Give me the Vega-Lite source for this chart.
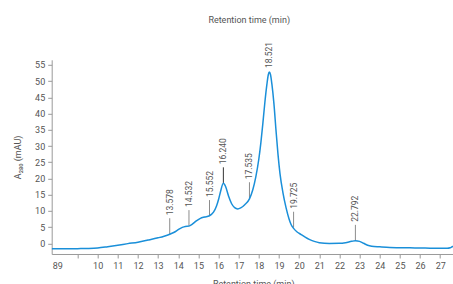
{
  "$schema": "https://vega.github.io/schema/vega-lite/v6.json",
  "autosize": {"type": "none"},
  "padding": {"left": 51.7, "top": 59.8, "right": 0, "bottom": 40},
  "width": 403,
  "height": 194.2,
  "config": {
    "font": "Roboto",
    "view": {"stroke": null},
    "axis": {"grid": false, "domainColor": "#9a9a9a", "tickColor": "#9a9a9a", "labelColor": "#555", "titleColor": "#555", "labelFontSize": 9, "titleFontSize": 9, "titleFontWeight": "normal", "tickSize": 4, "domainWidth": 1, "tickWidth": 1}
  },
  "title": {"text": "Retention time (min)", "fontSize": 9, "fontWeight": "normal", "color": "#555", "anchor": "middle", "offset": 17, "dx": -4},
  "datasets": {
    "trace": [
      {"t": 7.72, "v": -1.7}, {"t": 8.5, "v": -1.7}, {"t": 9.0, "v": -1.65}, {"t": 9.5, "v": -1.6},
      {"t": 10.0, "v": -1.45}, {"t": 10.5, "v": -1.05}, {"t": 11.0, "v": -0.6}, {"t": 11.5, "v": -0.1},
      {"t": 12.0, "v": 0.35}, {"t": 12.5, "v": 1.0}, {"t": 13.0, "v": 1.7}, {"t": 13.3, "v": 2.2},
      {"t": 13.58, "v": 2.8}, {"t": 13.8, "v": 3.4}, {"t": 14.0, "v": 4.2}, {"t": 14.2, "v": 4.9},
      {"t": 14.35, "v": 5.2}, {"t": 14.53, "v": 5.3}, {"t": 14.7, "v": 5.9}, {"t": 14.9, "v": 6.9},
      {"t": 15.1, "v": 7.7}, {"t": 15.3, "v": 8.1}, {"t": 15.55, "v": 8.5}, {"t": 15.75, "v": 9.6},
      {"t": 15.9, "v": 11.5}, {"t": 16.0, "v": 13.5}, {"t": 16.1, "v": 16.0}, {"t": 16.24, "v": 18.5},
      {"t": 16.35, "v": 17.5}, {"t": 16.5, "v": 14.5}, {"t": 16.65, "v": 12.2}, {"t": 16.8, "v": 11.0},
      {"t": 16.95, "v": 10.6}, {"t": 17.1, "v": 10.9}, {"t": 17.3, "v": 11.9}, {"t": 17.535, "v": 13.7},
      {"t": 17.7, "v": 16.5}, {"t": 17.85, "v": 20.5}, {"t": 18.0, "v": 26.0}, {"t": 18.1, "v": 31.0},
      {"t": 18.2, "v": 37.0}, {"t": 18.3, "v": 43.5}, {"t": 18.4, "v": 49.0}, {"t": 18.47, "v": 52.0},
      {"t": 18.52, "v": 52.8}, {"t": 18.58, "v": 52.0}, {"t": 18.65, "v": 49.0}, {"t": 18.75, "v": 43.0},
      {"t": 18.85, "v": 35.0}, {"t": 18.95, "v": 27.5}, {"t": 19.05, "v": 21.5}, {"t": 19.2, "v": 15.5},
      {"t": 19.35, "v": 11.0}, {"t": 19.5, "v": 7.5}, {"t": 19.6, "v": 5.8}, {"t": 19.725, "v": 4.6},
      {"t": 19.9, "v": 3.5}, {"t": 20.1, "v": 2.7}, {"t": 20.3, "v": 1.9}, {"t": 20.5, "v": 1.2},
      {"t": 20.75, "v": 0.6}, {"t": 21.0, "v": 0.2}, {"t": 21.5, "v": -0.05}, {"t": 22.0, "v": 0.0},
      {"t": 22.3, "v": 0.2}, {"t": 22.6, "v": 0.6}, {"t": 22.79, "v": 0.8}, {"t": 23.0, "v": 0.6},
      {"t": 23.2, "v": 0.0}, {"t": 23.4, "v": -0.6}, {"t": 23.6, "v": -0.9}, {"t": 24.0, "v": -1.1},
      {"t": 24.5, "v": -1.3}, {"t": 25.0, "v": -1.35}, {"t": 25.5, "v": -1.4}, {"t": 26.0, "v": -1.45},
      {"t": 26.5, "v": -1.5}, {"t": 27.0, "v": -1.55}, {"t": 27.35, "v": -1.55}, {"t": 27.5, "v": -1.4},
      {"t": 27.62, "v": -1.0}, {"t": 27.72, "v": -0.9}
    ],
    "peaks": [
      {"t": 13.578, "v": 2.8, "label": "13.578"},
      {"t": 14.532, "v": 5.3, "label": "14.532"},
      {"t": 15.552, "v": 8.4, "label": "15.552"},
      {"t": 16.24, "v": 18.5, "label": "16.240"},
      {"t": 17.535, "v": 13.9, "label": "17.535"},
      {"t": 18.521, "v": 52.8, "label": "18.521"},
      {"t": 19.725, "v": 4.8, "label": "19.725"},
      {"t": 22.792, "v": 0.75, "label": "22.792"}
    ]
  },
  "encoding": {
    "x": {"field": "t", "type": "quantitative", "scale": {"domain": [7.72, 27.72], "nice": false},
      "axis": {"values": [8, 9, 10, 11, 12, 13, 14, 15, 16, 17, 18, 19, 20, 21, 22, 23, 24, 25, 26, 27],
        "labelExpr": "datum.value == 8 ? '89' : datum.value == 9 ? '' : datum.label",
        "tickColor": {"condition": {"test": "datum.value == 8", "value": "transparent"}, "value": "#9a9a9a"},
        "labelPadding": 4, "titlePadding": 9, "title": "Retention time (min)", "labelFlush": false}},
    "y": {"field": "v", "type": "quantitative", "scale": {"domain": [-3.3, 56.6], "nice": false, "zero": false},
      "axis": {"values": [0, 5, 10, 15, 20, 25, 30, 35, 40, 45, 50, 55], "title": "A₂₈₀ (mAU)", "labelPadding": 3, "titlePadding": 12}}
  },
  "layer": [
    {
      "data": {"name": "peaks"},
      "transform": [{"filter": "datum.label != '18.521'"}],
      "mark": {"type": "rule", "y2Offset": -16, "strokeWidth": 1},
      "encoding": {
        "y2": {"field": "v"},
        "color": {"condition": {"test": "datum.label == '16.240'", "value": "#333"}, "value": "#8c8c8c"}
      }
    },
    {
      "data": {"name": "trace"},
      "mark": {"type": "line", "color": "#1a8fd9", "strokeWidth": 1.5, "interpolate": "monotone", "clip": true}
    },
    {
      "data": {"name": "peaks"},
      "transform": [{"filter": "datum.label != '18.521'"}],
      "mark": {"type": "text", "angle": 270, "align": "left", "baseline": "middle", "yOffset": -19, "fontSize": 8.5, "color": "#555"},
      "encoding": {"text": {"field": "label"}}
    },
    {
      "data": {"name": "peaks"},
      "transform": [{"filter": "datum.label == '18.521'"}],
      "mark": {"type": "text", "angle": 270, "align": "left", "baseline": "middle", "yOffset": -4, "fontSize": 8.5, "color": "#555"},
      "encoding": {"text": {"field": "label"}}
    }
  ]
}
